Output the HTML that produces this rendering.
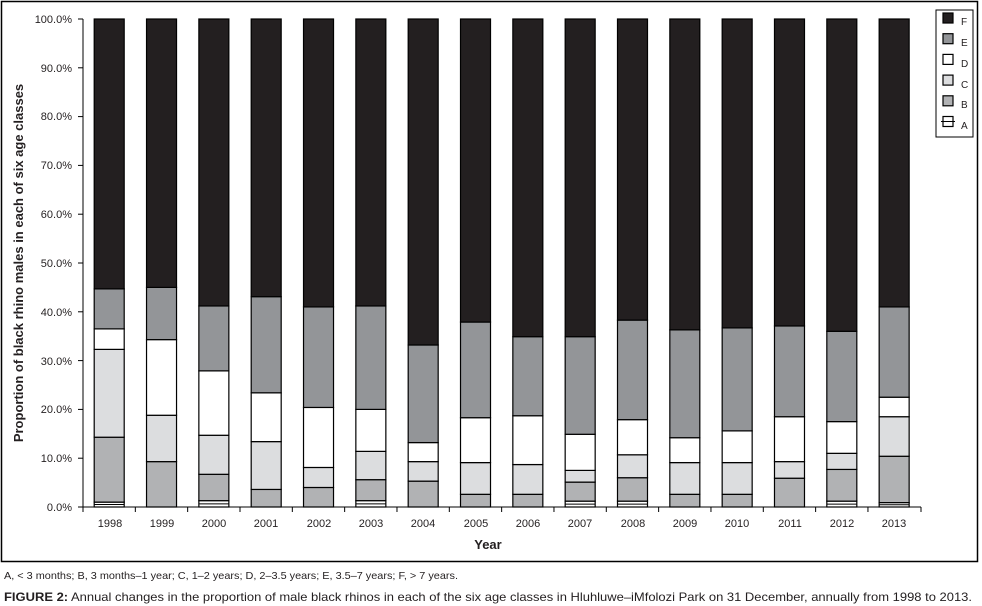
<!DOCTYPE html>
<html><head><meta charset="utf-8"><style>
body{margin:0;background:#fff;width:982px;height:606px;overflow:hidden;font-family:"Liberation Sans",sans-serif}
svg{position:absolute;left:0;top:0}
.t{font-family:"Liberation Sans",sans-serif;font-size:11px;fill:#231f20}
</style></head><body>
<svg id="s" width="982" height="606" xmlns="http://www.w3.org/2000/svg">
<rect x="1.5" y="1.5" width="976" height="560" fill="none" stroke="#000" stroke-width="1.5"/>
<g id="bars"></g>
<line x1="83" y1="19" x2="83" y2="507" stroke="#000"/>
<line x1="83" y1="507" x2="921" y2="507" stroke="#000"/>
<g class="t" text-anchor="end">
<text x="72" y="511">0.0%</text><text x="72" y="462">10.0%</text><text x="72" y="413">20.0%</text><text x="72" y="365">30.0%</text><text x="72" y="316">40.0%</text><text x="72" y="267">50.0%</text><text x="72" y="218">60.0%</text><text x="72" y="169">70.0%</text><text x="72" y="120">80.0%</text><text x="72" y="72">90.0%</text><text x="72" y="23">100.0%</text>
</g>
<g class="t" text-anchor="middle">
<text x="110" y="527">1998</text><text x="162" y="527">1999</text><text x="214" y="527">2000</text><text x="266" y="527">2001</text><text x="319" y="527">2002</text><text x="371" y="527">2003</text><text x="423" y="527">2004</text><text x="476" y="527">2005</text><text x="528" y="527">2006</text><text x="580" y="527">2007</text><text x="633" y="527">2008</text><text x="685" y="527">2009</text><text x="737" y="527">2010</text><text x="790" y="527">2011</text><text x="842" y="527">2012</text><text x="894" y="527">2013</text>
</g>
<text x="488" y="549" text-anchor="middle" style="font-size:13px;font-weight:bold;fill:#231f20">Year</text>
<text transform="translate(23,263) rotate(-90)" text-anchor="middle" style="font-size:13px;font-weight:bold;fill:#231f20">Proportion of black rhino males in each of six age classes</text>
<rect x="936" y="10" width="37" height="127" fill="#fff" stroke="#000"/>
<g id="leg"></g>
<g class="t" style="font-size:10px">
<text x="961" y="25">F</text><text x="961" y="46">E</text><text x="961" y="67">D</text><text x="961" y="88">C</text><text x="961" y="108">B</text><text x="961" y="129">A</text>
</g>
<text x="4" y="579" textLength="454" lengthAdjust="spacingAndGlyphs" style="font-size:10.5px;fill:#231f20">A, &lt; 3 months; B, 3 months–1 year; C, 1–2 years; D, 2–3.5 years; E, 3.5–7 years; F, &gt; 7 years.</text>
<text x="4" y="601" textLength="968" lengthAdjust="spacingAndGlyphs" style="font-size:12px;fill:#231f20"><tspan font-weight="bold">FIGURE 2:</tspan> Annual changes in the proportion of male black rhinos in each of the six age classes in Hluhluwe–iMfolozi Park on 31 December, annually from 1998 to 2013.</text>
</svg>
<script>
var d=[[1,14.3,32.3,36.5,44.7],[0,9.3,18.8,34.3,45],[1.3,6.7,14.7,27.9,41.2],[0,3.6,13.4,23.4,43.1],[0,4,8.1,20.4,41],[1.3,5.6,11.4,20,41.2],[0,5.3,9.3,13.2,33.2],[0,2.6,9.1,18.3,37.9],[0,2.6,8.7,18.7,34.9],[1.2,5.1,7.5,14.9,34.9],[1.2,6,10.7,17.9,38.3],[0,2.6,9.1,14.2,36.3],[0,2.6,9.1,15.6,36.7],[0,5.9,9.3,18.5,37.1],[1.2,7.7,11,17.5,36],[0.9,10.4,18.5,22.5,41]];
var c=["#fff","#b1b2b4","#dcdddf","#fff","#939598","#231f20"];
var ns="http://www.w3.org/2000/svg",g=document.getElementById("bars");
function R(p,x,y,w,h,f){var r=document.createElementNS(ns,"rect");r.setAttribute("x",x);r.setAttribute("y",y);r.setAttribute("width",w);r.setAttribute("height",h);r.setAttribute("fill",f);r.setAttribute("stroke","#000");r.setAttribute("stroke-width","1.2");p.appendChild(r);}
function L(p,x1,y1,x2,y2){var l=document.createElementNS(ns,"line");l.setAttribute("x1",x1);l.setAttribute("y1",y1);l.setAttribute("x2",x2);l.setAttribute("y2",y2);l.setAttribute("stroke","#000");p.appendChild(l);}
function Y(p){return 507-4.88*p;}
d.forEach(function(v,i){var x=83+i*52.33+11.2,w=30,t=[v[0],v[1],v[2],v[3],v[4],100],prev=0;
for(var k=0;k<6;k++){if(t[k]>prev){R(g,x,Y(t[k]),w,Y(prev)-Y(t[k]),c[k]);if(k==0)L(g,x,(Y(0)+Y(t[0]))/2,x+w,(Y(0)+Y(t[0]))/2);prev=t[k];}}
L(g,83+i*52.33,507,83+i*52.33,512);});
L(g,921,507,921,512);
for(var j=0;j<=10;j++)L(g,78,Y(j*10),83,Y(j*10));
var lg=document.getElementById("leg"),lc=["#231f20","#939598","#fff","#dcdddf","#b1b2b4","#fff"];
for(var k=0;k<6;k++){R(lg,943,13+k*20.7,10,10,lc[k]);}
L(lg,941,18+5*20.7,955,18+5*20.7);
</script>
</body></html>
